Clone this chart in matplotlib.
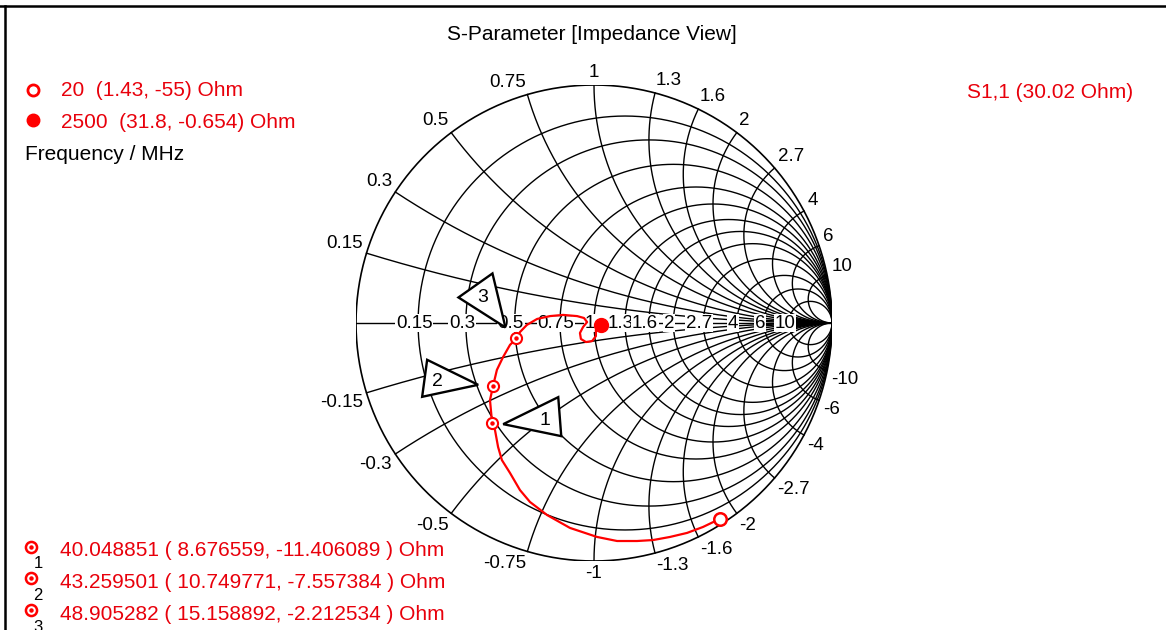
import numpy as np
import matplotlib.pyplot as plt
from matplotlib.patches import Polygon
from matplotlib.lines import Line2D

plt.rcParams['font.family'] = ['Liberation Sans', 'DejaVu Sans']

# port reference impedance (Ohm)
z0 = 30.02

# smith grid values (normalised r and x)
grid_vals = [0.15, 0.3, 0.5, 0.75, 1, 1.3, 1.6, 2, 2.7, 4, 6, 10]
grid_labels = ['0.15', '0.3', '0.5', '0.75', '1', '1.3', '1.6', '2', '2.7', '4', '6', '10']

# S1,1 trace as reflection coefficient, 20 MHz -> 2500 MHz
s11_re = [0.458, 0.391, 0.319, 0.248, 0.181, 0.097, 0.013, -0.101, -0.197,
          -0.269, -0.311, -0.353, -0.387, -0.403, -0.416, -0.428, -0.437,
          -0.424, -0.408, -0.382, -0.353, -0.326, -0.311, -0.282, -0.239,
          -0.185, -0.130, -0.071, -0.042, -0.029, -0.046, -0.059, -0.055,
          -0.034, -0.008, 0.008, 0.008, 0.017]
s11_im = [-0.857, -0.882, -0.899, -0.912, -0.916, -0.916, -0.899, -0.861, -0.807,
          -0.752, -0.702, -0.630, -0.576, -0.521, -0.450, -0.421, -0.324,
          -0.264, -0.197, -0.143, -0.092, -0.065, -0.038, -0.008, 0.017,
          0.029, 0.034, 0.029, 0.021, 0.004, -0.017, -0.042, -0.067,
          -0.080, -0.076, -0.055, -0.029, -0.013]

# sweep end points: frequency / MHz, impedance (Ohm)
end_freq = ['20', '2500']
end_r = [1.43, 31.8]
end_x = [-55, -0.654]

# markers: frequency / MHz, impedance (Ohm)
mk_freq = [40.048851, 43.259501, 48.905282]
mk_r = [8.676559, 10.749771, 15.158892]
mk_x = [-11.406089, -7.557384, -2.212534]

W, H = 1166, 630
cx, cy, R = 594, 323, 238
red = '#ff0000'
txt_red = '#e8000b'


def gamma(r, x, zref=z0):
    z = np.asarray(r) + 1j * np.asarray(x)
    return (z - zref) / (z + zref)


def fx(px):
    return px / W


def fy(py):
    return 1 - py / H


fig = plt.figure(figsize=(W / 100, H / 100), dpi=100)
ax = fig.add_axes([(cx - R) / W, (H - cy - R) / H, 2 * R / W, 2 * R / H])
ax.set_xlim(-1, 1)
ax.set_ylim(-1, 1)
ax.axis('off')

# ---- grid ----
t = np.linspace(0, 2 * np.pi, 721)
ax.plot(np.cos(t), np.sin(t), color='black', lw=1.2, zorder=2)
for r in grid_vals:
    c = r / (1 + r)
    rad = 1 / (1 + r)
    ax.plot(c + rad * np.cos(t), rad * np.sin(t), color='black', lw=1.0, zorder=1)
rr = np.concatenate([[0], np.logspace(-3, 4, 800)])
for x in grid_vals:
    for s in (1, -1):
        g = gamma(rr, s * x, 1.0)
        ax.plot(g.real, g.imag, color='black', lw=1.0, zorder=1)
ax.plot([-1, 1], [0, 0], color='black', lw=1.0, zorder=1)

# labels on real axis
for r, lab in zip(grid_vals, grid_labels):
    g = (r - 1) / (r + 1) - 4 / R
    ax.text(g, 0, lab, ha='center', va='center', fontsize=13.5, zorder=3,
            bbox=dict(fc='white', ec='none', pad=0.6))

# labels around the rim
for x, lab in zip(grid_vals, grid_labels):
    for s in (1, -1):
        g = gamma(0, s * x, 1.0) * (1 + 4 / R)
        ha = 'right' if g.real < -0.1 else ('left' if g.real > 0.1 else 'center')
        va = 'bottom' if s > 0 else 'top'
        ax.text(g.real, g.imag, lab if s > 0 else '-' + lab, ha=ha, va=va,
                fontsize=13.5, clip_on=False)

# ---- S1,1 trace ----
g0 = gamma(end_r[0], end_x[0])
g1 = gamma(end_r[1], end_x[1])
tr_re = np.concatenate([[g0.real], s11_re, [g1.real]])
tr_im = np.concatenate([[g0.imag], s11_im, [g1.imag]])
ax.plot(tr_re, tr_im, color=red, lw=1.6, zorder=5, solid_joinstyle='round')
ax.plot(g0.real, g0.imag, 'o', ms=9, mfc='white', mec=red, mew=1.8, zorder=6)
ax.plot(g1.real, g1.imag, 'o', ms=10, color=red, zorder=6)

# markers and their callouts
gm = gamma(mk_r, mk_x)
ax.plot(gm.real, gm.imag, 'o', ms=8, mfc='white', mec=red, mew=1.5, zorder=6)
ax.plot(gm.real, gm.imag, 'o', ms=2.2, color=red, zorder=7)

tri_off = [[(11, 1), (66, -26), (69, 13)],
           [(-15, -1), (-66, -26), (-71, 11)],
           [(-11, -11), (-24, -65), (-58, -41)]]
num_off = [(53, -3), (-56, -4), (-34, -41)]
for i, g in enumerate(gm):
    pts = [(g.real + dx / R, g.imag - dy / R) for dx, dy in tri_off[i]]
    ax.add_patch(Polygon(pts, closed=True, fc='white', ec='black', lw=1.7, zorder=4))
    ax.text(g.real + num_off[i][0] / R, g.imag - num_off[i][1] / R, str(i + 1),
            ha='center', va='center', fontsize=14, zorder=4.5)

# ---- texts outside the chart ----
fig.text(fx(592), fy(35), 'S-Parameter [Impedance View]', ha='center', va='center', fontsize=15)
fig.text(fx(967), fy(92), 'S1,1 (%.2f Ohm)' % z0, ha='left', va='center', fontsize=15, color=txt_red)

lax = fig.add_axes([0, 0, 1, 1], zorder=-1)
lax.set_xlim(0, W)
lax.set_ylim(H, 0)
lax.axis('off')
lax.plot(33, 89.5, 'o', ms=8, mfc='white', mec=red, mew=2)
lax.plot(33, 120, 'o', ms=9, color=red)
for k, yy in enumerate([90, 122]):
    fig.text(fx(61), fy(yy), '%s  (%g, %g) Ohm' % (end_freq[k], end_r[k], end_x[k]),
             ha='left', va='center', fontsize=15, color=txt_red)
fig.text(fx(25), fy(154), 'Frequency / MHz', ha='left', va='center', fontsize=15)

for k, yy in enumerate([551, 582, 614]):
    sy = yy - 4
    lax.plot(31, sy, 'o', ms=8, mfc='white', mec=red, mew=1.8)
    lax.plot(31, sy, 'o', ms=2.2, color=red)
    fig.text(fx(38), fy(sy + 17), str(k + 1), ha='center', va='center', fontsize=12)
    fig.text(fx(60), fy(yy), '%.6f ( %.6f, %.6f ) Ohm' % (mk_freq[k], mk_r[k], mk_x[k]),
             ha='left', va='center', fontsize=15, color=txt_red)

# frame
fig.add_artist(Line2D([0, 1], [fy(6), fy(6)], color='black', lw=1.8))
fig.add_artist(Line2D([fx(5), fx(5)], [fy(6), 0], color='black', lw=1.8))

fig.savefig('out.png', dpi=100)
